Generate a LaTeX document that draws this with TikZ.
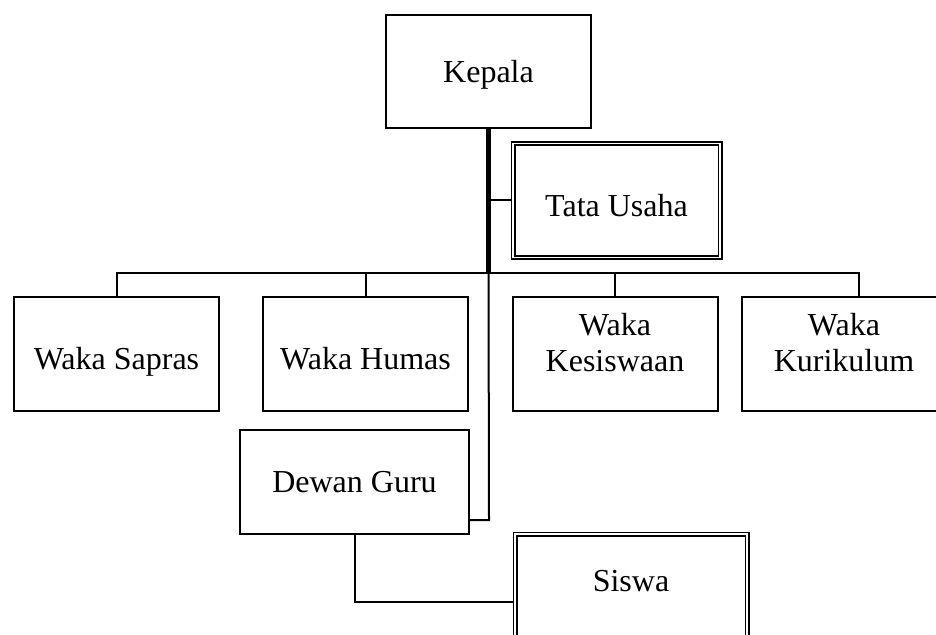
\documentclass[tikz,border=0pt]{standalone}
\usepackage{fontspec}
\setmainfont{Liberation Serif}
\usepackage{tikz}
\usetikzlibrary{positioning, calc}

\begin{document}
\begin{tikzpicture}[x=0.5pt, y=-0.5pt, font=\fontsize{16}{18}\selectfont,
        box/.style={draw=black, line width=1pt, fill=white, minimum width=102.5pt,
          minimum height=57pt, align=center},
        dbox/.style={box, line width=0.9pt, double=white, double distance=0.7pt},
        twoline/.style={text height=28pt, text depth=10pt},
        link/.style={draw=black, line width=1pt},
        trunk/.style={draw=black, line width=2.2pt}]
        \clip (0,0) rectangle (936,635);
        \node[box, minimum height=56.5pt, text depth=0pt] (kepala) at (488.5,71.5) {Kepala};
        \node[dbox, minimum width=103.5pt, text height=16.5pt, text depth=0pt] (tu) at (616.5,200.5) {Tata Usaha};
        \node[box, text height=16pt, text depth=0pt] (sapras) at (116.5,354) {Waka Sapras};
        \node[box, text height=16pt, text depth=0pt] (humas) at (365.5,354) {Waka Humas};
        \node[box, twoline] (kes) at (615,354) {Waka\\Kesiswaan};
        \node[box, twoline] (kur) at (844,354) {Waka\\Kurikulum};
        \node[box, minimum width=114.5pt, minimum height=52pt] (dewan) at (354.5,482) {Dewan Guru};
        \node[dbox, minimum width=116pt, minimum height=68pt, text depth=21pt] (siswa) at (631,602) {Siswa};
        \coordinate (busR) at (859,273);
        \coordinate (kurtop) at (859,297);
        \coordinate (hub) at (kepala.south |- busR);
        \coordinate (dgjoin) at (489,520);
        % lines
        \draw[link] (hub) -- (dgjoin) -- (dgjoin -| dewan.east);
        \draw[link] (sapras.north) |- (busR) -- (kurtop);
        \draw[link] (humas.north) -- (humas.north |- busR);
        \draw[link] (kes.north) -- (kes.north |- busR);
        \draw[link] (tu.west) -- (tu.west -| kepala.south);
        \draw[link] (dewan.south) |- (siswa.west);
        \draw[trunk] (kepala.south) -- (hub);
      \end{tikzpicture}
\end{document}
